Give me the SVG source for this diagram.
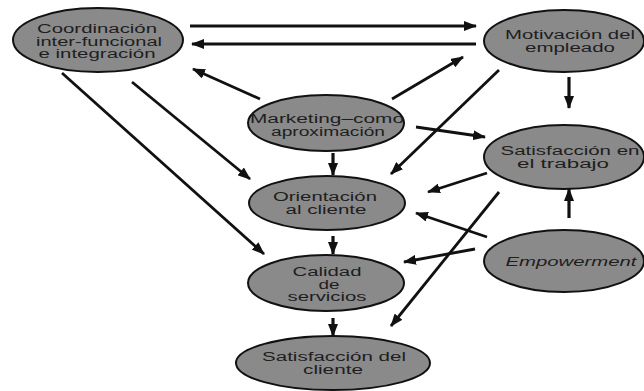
<svg xmlns="http://www.w3.org/2000/svg" width="644" height="391" viewBox="0 0 644 391">
<defs>
<marker id="ah" markerUnits="userSpaceOnUse" markerWidth="13" markerHeight="10" refX="12" refY="5" orient="auto">
<path d="M0,0 L13,5 L0,10 z" fill="#111"/>
</marker>
<style>
.node ellipse{fill:#8a8a8a;stroke:#111;stroke-width:2}
.node text{font-family:"Liberation Sans",Arial,sans-serif;font-size:12px;fill:#1e1e1e;text-anchor:middle}
.conn line{stroke:#111;stroke-width:2.8;marker-end:url(#ah)}
.conn line.v{stroke-width:3.2}
</style>
</defs>
<rect width="644" height="391" fill="#fff"/>
<g id="connectors" class="conn">
<line x1="190" y1="26" x2="476" y2="26"/>
<line x1="476" y1="44" x2="192" y2="44"/>
<line x1="260" y1="99" x2="193" y2="69"/>
<line x1="392" y1="99" x2="463" y2="57"/>
<line x1="132" y1="82" x2="250" y2="179"/>
<line x1="62" y1="73" x2="264" y2="254"/>
<line class="v" x1="333" y1="153" x2="333" y2="175"/>
<line x1="416" y1="127" x2="485" y2="137"/>
<line x1="499" y1="70" x2="391" y2="174"/>
<line class="v" x1="569" y1="77" x2="569" y2="108"/>
<line x1="487" y1="173" x2="428" y2="192"/>
<line x1="499" y1="192" x2="391" y2="326"/>
<line class="v" x1="569" y1="218" x2="569" y2="189"/>
<line x1="487" y1="237" x2="416" y2="213"/>
<line x1="475" y1="249" x2="404" y2="262"/>
<line class="v" x1="333" y1="236" x2="333" y2="254"/>
<line class="v" x1="333" y1="318" x2="333" y2="336"/>
</g>
<g id="coordinacion" class="node">
<ellipse cx="98" cy="40" rx="85" ry="32"/>
<text x="97" y="33" textLength="120" lengthAdjust="spacingAndGlyphs">Coordinación</text>
<text x="99" y="45.5" textLength="126" lengthAdjust="spacingAndGlyphs">inter-funcional</text>
<text x="97" y="58" textLength="117" lengthAdjust="spacingAndGlyphs">e integración</text>
</g>
<g id="motivacion" class="node">
<ellipse cx="564" cy="41" rx="80" ry="31"/>
<text x="570" y="39" textLength="130" lengthAdjust="spacingAndGlyphs">Motivación del</text>
<text x="570" y="52" textLength="90" lengthAdjust="spacingAndGlyphs">empleado</text>
</g>
<g id="marketing" class="node">
<ellipse cx="326" cy="123" rx="78" ry="28"/>
<text x="327" y="123" textLength="154" lengthAdjust="spacingAndGlyphs">Marketing–como</text>
<text x="328" y="136" textLength="114" lengthAdjust="spacingAndGlyphs">aproximación</text>
</g>
<g id="satisfaccion-trabajo" class="node">
<ellipse cx="564" cy="157" rx="80" ry="32"/>
<text x="570" y="155" textLength="139" lengthAdjust="spacingAndGlyphs">Satisfacción en</text>
<text x="563" y="168" textLength="92" lengthAdjust="spacingAndGlyphs">el trabajo</text>
</g>
<g id="orientacion" class="node">
<ellipse cx="327" cy="203" rx="78" ry="27"/>
<text x="325" y="201" textLength="104" lengthAdjust="spacingAndGlyphs">Orientación</text>
<text x="326" y="214" textLength="81" lengthAdjust="spacingAndGlyphs">al cliente</text>
</g>
<g id="empowerment" class="node">
<ellipse cx="564" cy="261" rx="80" ry="31"/>
<text x="571" y="266" font-style="italic" textLength="131" lengthAdjust="spacingAndGlyphs">Empowerment</text>
</g>
<g id="calidad" class="node">
<ellipse cx="326" cy="283" rx="78" ry="28"/>
<text x="327" y="276" textLength="69" lengthAdjust="spacingAndGlyphs">Calidad</text>
<text x="329" y="288.5" textLength="21" lengthAdjust="spacingAndGlyphs">de</text>
<text x="327" y="301" textLength="79" lengthAdjust="spacingAndGlyphs">servicios</text>
</g>
<g id="satisfaccion-cliente" class="node">
<ellipse cx="333" cy="363" rx="97" ry="27"/>
<text x="334" y="361" textLength="144" lengthAdjust="spacingAndGlyphs">Satisfacción del</text>
<text x="333" y="374" textLength="60" lengthAdjust="spacingAndGlyphs">cliente</text>
</g>
</svg>
